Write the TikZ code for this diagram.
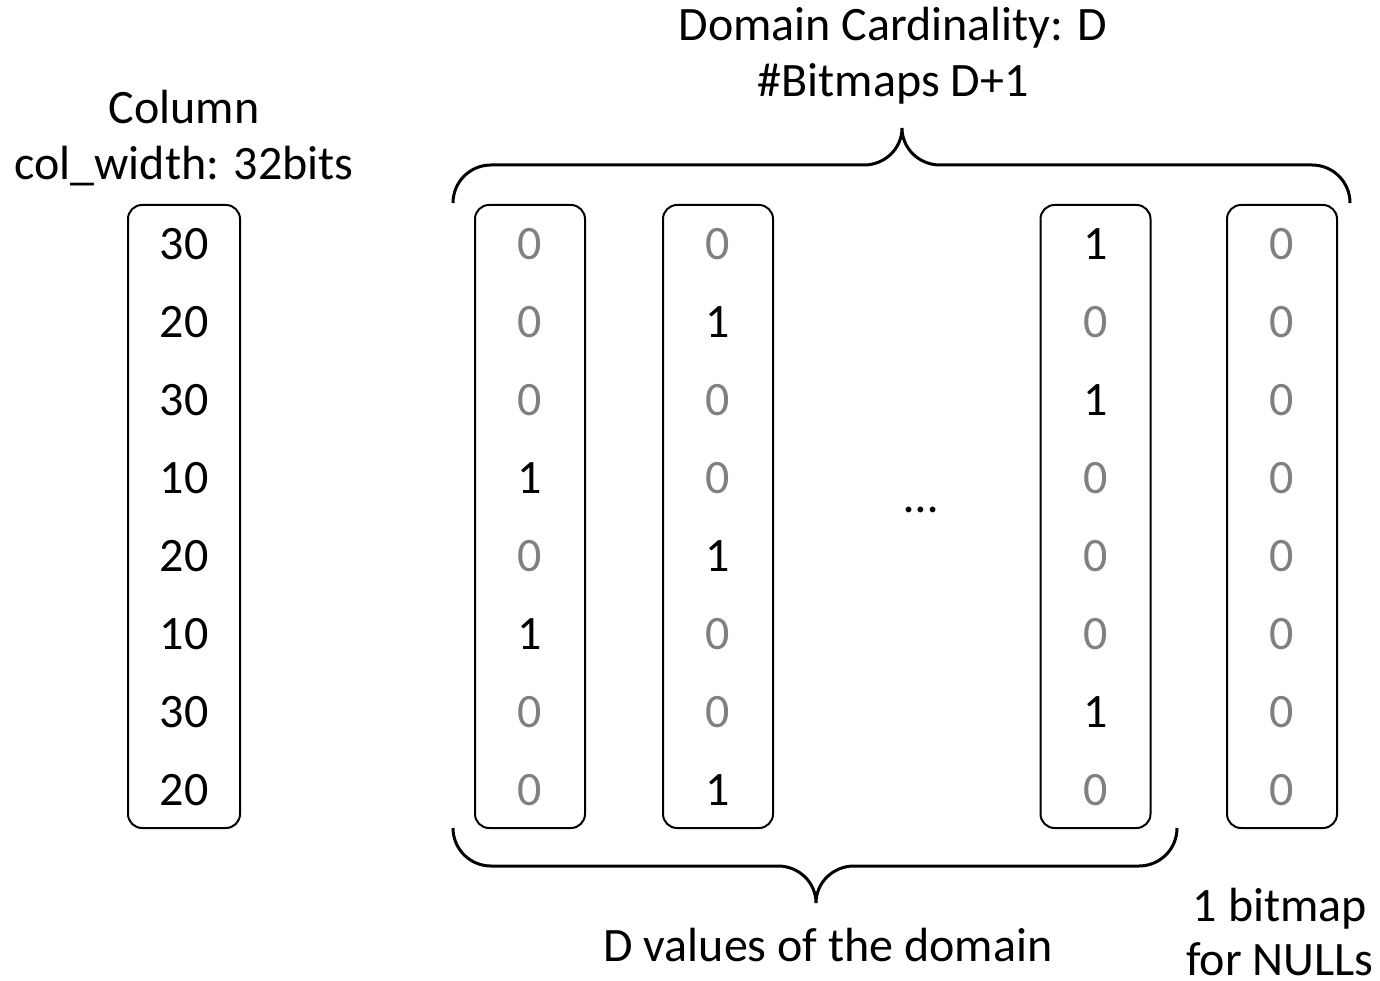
\documentclass[tikz,border=0pt]{standalone}
\usepackage{fontspec}
\setmainfont{Carlito}
\usetikzlibrary{positioning}
\definecolor{zerogray}{RGB}{128,128,128}
\tikzset{
bitbox/.style={
  draw=black,
  line width=1pt,
  rounded corners=7pt,
  minimum width=55pt,
  minimum height=311.5pt,
  inner sep=0pt,
  }
}
\tikzset{
cell/.style={
  font=\fontsize{24}{28}\selectfont,
  inner sep=0pt,
  },
b0/.style={text=zerogray},
b1/.style={text=black},
label/.style={
  font=\fontsize{24}{28}\selectfont,
  align=center,
  inner sep=0pt,
  }
}
\tikzset{
bracepath/.style={
  line width=1.5pt,
  }
}

\begin{document}
\begin{tikzpicture}[x=0.5pt,y=0.5pt]
    \useasboundingbox (0,0) rectangle (1380,980);
    % the column and its bitmaps
    \node[bitbox, minimum width=56pt] (col) at (184,463.5) {};
    \node[bitbox] (bm1) at (530,463.5) {};
    \node[bitbox] (bm2) at (718,463.5) {};
    \node[bitbox] (bm3) at (1095.5,463.5) {};
    \node[bitbox] (bmnull) at (1282,463.5) {};

    \foreach \v [count=\i] in {30,20,30,10,20,10,30,20}
        \node[cell] (col-\i) at (184,814-78*\i) {\v};
    \foreach \v [count=\i] in {0,0,0,1,0,1,0,0}
        \node[cell, b\v] (bm1-\i) at (530,814-78*\i) {\v};
    \foreach \v [count=\i] in {0,1,0,0,1,0,0,1}
        \node[cell, b\v] (bm2-\i) at (718,814-78*\i) {\v};
    \foreach \v [count=\i] in {1,0,1,0,0,0,1,0}
        \node[cell, b\v] (bm3-\i) at (1095.5,814-78*\i) {\v};
    \foreach \v [count=\i] in {0,0,0,0,0,0,0,0}
        \node[cell, b\v] (bmnull-\i) at (1282,814-78*\i) {\v};

    \node[cell] (dots) at (921,470) {…};

    % labels
    \node[label] (colname) at (184,842) {Column\\col\_width: 32bits};
    \node[label] (domain) at (893,924) {Domain Cardinality: D\\\#Bitmaps D+1};
    \node[label] (values) at (828,35) {D values of the domain};
    \node[label, font=\fontsize{24}{27}\selectfont] (nulls) at (1280,48) {1 bitmap\\for NULLs};

    % braces
    \draw[bracepath] (453,777) to[out=90,in=180] (491,815) -- (864,815)
        to[out=0,in=-90] (902,852) to[out=-90,in=180] (940,815) -- (1312,815)
        to[out=0,in=90] (1350,777);
    \draw[bracepath] (453,152) to[out=-90,in=180] (491,114) -- (778,114)
        to[out=0,in=90] (816,77) to[out=90,in=180] (854,114) -- (1139,114)
        to[out=0,in=-90] (1177,152);
\end{tikzpicture}
\end{document}
